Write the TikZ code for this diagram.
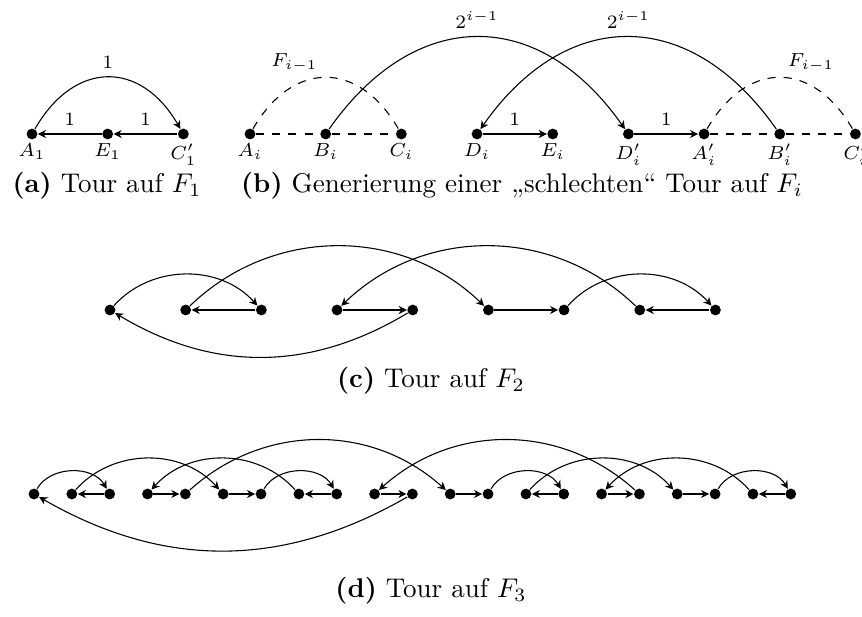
\documentclass[tikz,border=0pt]{standalone}
\usepackage{amsmath}
\usetikzlibrary{positioning,arrows.meta}

\begin{document}
\begin{tikzpicture}[x=0.37pt,y=0.37pt,on grid,
  dot/.style={circle,fill=black,inner sep=0pt,minimum size=4pt},
  lbl/.style={font=\fontsize{6.6}{8}\selectfont,inner sep=1pt},
  every label/.style={lbl},label distance=0.3pt,
  arr/.style={-{Stealth[length=3pt,width=3pt]}},
  captxt/.style={font=\normalsize,inner sep=0pt}]
\useasboundingbox (0,0) rectangle (862,-617);

% (a) tour on F_1
\node[dot,label=below:$A_1$] (A1) at (32,-134) {};
\node[dot,right=28pt of A1,label=below:$E_1$] (E1) {};
\node[dot,right=28pt of E1,label=below:$C'_1$] (C1) {};
\draw[arr] (C1) -- node[lbl,above=2pt]{$1$} (E1);
\draw[arr] (E1) -- node[lbl,above=2pt]{$1$} (A1);
\draw[arr] (A1) to[bend left=60,looseness=1.4] node[lbl,above=2pt]{$1$} (C1);
\node[captxt] (capa) at (107,-186) {\textbf{(a)} Tour auf $F_1$};

% (b) construction of F_i
\node[dot,label=below:$A_i$] (Ai) at (250,-134) {};
\node[dot,right=28pt of Ai,label=below:$B_i$] (Bi) {};
\node[dot,right=28pt of Bi,label=below:$C_i$] (Ci) {};
\node[dot,right=28pt of Ci,label=below:$D_i$] (Di) {};
\node[dot,right=28pt of Di,label=below:$E_i$] (Ei) {};
\node[dot,right=28pt of Ei,label=below:$D'_i$] (Dpi) {};
\node[dot,right=28pt of Dpi,label=below:$A'_i$] (Api) {};
\node[dot,right=28pt of Api,label=below:$B'_i$] (Bpi) {};
\node[dot,right=28pt of Bpi,label=below:$C'_i$] (Cpi) {};
\draw[dashed] (Ai) -- (Bi) -- (Ci);
\draw[dashed] (Ai) to[bend left=60,looseness=1.4] node[lbl,pos=0.3,above=4pt]{$F_{i-1}$} (Ci);
\draw[arr] (Bi) to[bend left=55,looseness=1.3] node[lbl,above=2pt]{$2^{i-1}$} (Dpi);
\draw[arr] (Bpi) to[bend right=55,looseness=1.3] node[lbl,above=2pt]{$2^{i-1}$} (Di);
\draw[arr] (Di) -- node[lbl,above=2pt]{$1$} (Ei);
\draw[arr] (Dpi) -- node[lbl,above=2pt]{$1$} (Api);
\draw[dashed] (Api) -- (Bpi) -- (Cpi);
\draw[dashed] (Api) to[bend left=60,looseness=1.4] node[lbl,pos=0.7,above=4pt]{$F_{i-1}$} (Cpi);
\node[captxt] (capb) at (522,-186) {\textbf{(b)} Generierung einer „schlechten“ Tour auf $F_i$};

% (c) tour on F_2
\node[dot] (p0) at (110,-310) {};
\foreach \i [count=\j from 1] in {0,...,7}
  \node[dot,right=28pt of p\i] (p\j) {};
\draw[arr] (p0) to[bend left=48] (p2);
\draw[arr] (p2) -- (p1);
\draw[arr] (p1) to[bend left=44] (p5);
\draw[arr] (p5) -- (p6);
\draw[arr] (p6) to[bend left=48] (p8);
\draw[arr] (p8) -- (p7);
\draw[arr] (p7) to[bend right=44] (p3);
\draw[arr] (p3) -- (p4);
\draw[arr] (p4) to[bend left=31] (p0);
\node[captxt] (capc) at (431,-381) {\textbf{(c)} Tour auf $F_2$};

% (d) tour on F_3
\node[dot] (q0) at (34,-494) {};
\foreach \i [count=\j from 1] in {0,...,19}
  \node[dot,right=14pt of q\i] (q\j) {};
\draw[arr] (q0) to[bend left=60] (q2);
\draw[arr] (q2) -- (q1);
\draw[arr] (q1) to[bend left=48] (q5);
\draw[arr] (q5) -- (q6);
\draw[arr] (q6) to[bend left=60] (q8);
\draw[arr] (q8) -- (q7);
\draw[arr] (q7) to[bend right=48] (q3);
\draw[arr] (q3) -- (q4);
\draw[arr] (q4) to[bend left=42] (q11);
\draw[arr] (q11) -- (q12);
\draw[arr] (q12) to[bend left=60] (q14);
\draw[arr] (q14) -- (q13);
\draw[arr] (q13) to[bend left=48] (q17);
\draw[arr] (q17) -- (q18);
\draw[arr] (q18) to[bend left=60] (q20);
\draw[arr] (q20) -- (q19);
\draw[arr] (q19) to[bend right=48] (q15);
\draw[arr] (q15) -- (q16);
\draw[arr] (q16) to[bend right=42] (q9);
\draw[arr] (q9) -- (q10);
\draw[arr] (q10) to[bend left=30] (q0);
\node[captxt] (capd) at (431,-591) {\textbf{(d)} Tour auf $F_3$};
\end{tikzpicture}
\end{document}
